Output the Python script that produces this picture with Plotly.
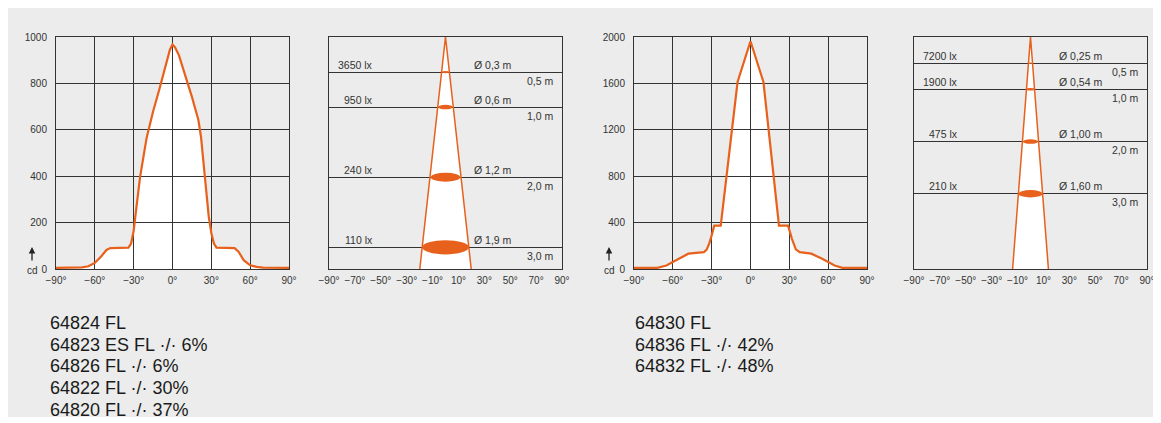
import numpy as np
import plotly.graph_objects as go

# luminous intensity distribution, left lamp (cd over angle)
ang_a = [-90, -80, -70, -65, -60, -55, -51, -48, -40, -34, -32, -30, -28, -25, -20, -15, -10, -5, -2, 0,
         2, 5, 10, 15, 20, 22, 25, 28, 30, 32, 34, 40, 48, 51, 55, 60, 65, 70, 80, 90]
cd_a = [5, 5, 7, 12, 26, 55, 82, 90, 90, 92, 110, 165, 260, 398, 565, 679, 778, 885, 945, 968,
        955, 921, 835, 742, 642, 570, 398, 226, 155, 110, 92, 90, 90, 75, 38, 16, 9, 6, 5, 5]

# luminous intensity distribution, right lamp
ang_b = [-90, -72, -65, -60, -55, -48, -40, -36, -34, -32, -30, -28, -23, -10, 0,
         10, 22, 29, 32, 35, 38, 47, 55, 60, 65, 71, 90]
cd_b = [10, 10, 30, 57, 90, 132, 138, 145, 165, 215, 290, 374, 374, 1612, 1963,
        1612, 374, 374, 260, 170, 145, 132, 90, 57, 30, 10, 10]

# illuminance cones
dist_a = [0.5, 1.0, 2.0, 3.0]
lux_a = [3650, 950, 240, 110]
diam_a = [0.3, 0.6, 1.2, 1.9]

dist_b = [0.5, 1.0, 2.0, 3.0]
lux_b = [7200, 1900, 475, 210]
diam_b = [0.25, 0.54, 1.00, 1.60]

models_a = ["64824 FL", "64823 ES FL ·/· 6%", "64826 FL ·/· 6%", "64822 FL ·/· 30%", "64820 FL ·/· 37%"]
models_b = ["64830 FL", "64836 FL ·/· 42%", "64832 FL ·/· 48%"]

cd_ticks_a = [0, 200, 400, 600, 800, 1000]
cd_ticks_b = [0, 400, 800, 1200, 1600, 2000]
deg_ticks = [-90, -60, -30, 0, 30, 60, 90]
cone_deg_ticks = [-90, -70, -50, -30, -10, 10, 30, 50, 70, 90]

# page has an 8px body margin, so the figure is placed at (8, 8) in the window
OFF = 8
W, H = 1161 - OFF, 423 - OFF
ORANGE = "#e8611c"
GRID = "#333333"
BG = "#ebeceb"
TICKFONT = dict(family="Liberation Sans, Arial, sans-serif", size=10, color="#333333")


def px_x(v):
    return (v - OFF) / W


def px_y(v):
    return 1 - (v - OFF) / H


def deg(v):
    return ("\u2212" if v < 0 else "") + str(abs(v)) + "°"


def comma(v, n):
    return f"{v:.{n}f}".replace(".", ",")


fig = go.Figure()
shapes = [dict(type="rect", xref="paper", yref="paper", x0=px_x(5), x1=1.01, y0=px_y(417), y1=px_y(7),
               fillcolor=BG, line_width=0, layer="below")]
annotations = []

ydom = [px_y(269), px_y(37)]
doms = [[px_x(56), px_x(289)], [px_x(329), px_x(562)], [px_x(634), px_x(867)], [px_x(914), px_x(1147)]]

# intensity curves -> axes 1 and 3
for i, (ang, cd, ticks) in zip([1, 3], [(ang_a, cd_a, cd_ticks_a), (ang_b, cd_b, cd_ticks_b)]):
    xa, ya = ("x" if i == 1 else f"x{i}"), ("y" if i == 1 else f"y{i}")
    path = "M -90,0 " + " ".join(f"L {a},{c}" for a, c in zip(ang, cd)) + " L 90,0 Z"
    shapes.append(dict(type="path", xref=xa, yref=ya, path=path, fillcolor="white", line_width=0, layer="below"))
    fig.add_trace(go.Scatter(x=ang, y=cd, mode="lines", line=dict(color=ORANGE, width=2.2),
                             xaxis=xa, yaxis=ya, showlegend=False, hoverinfo="skip"))
    sfx = "" if i == 1 else str(i)
    fig.layout["xaxis" + sfx] = dict(domain=doms[i - 1], range=[-90, 90], anchor=ya,
                                     tickvals=deg_ticks, ticktext=[deg(t) for t in deg_ticks],
                                     showgrid=True, gridcolor=GRID, gridwidth=1, zeroline=False,
                                     showline=True, linecolor=GRID, mirror=True, ticks="",
                                     tickfont=TICKFONT, ticklabelstandoff=2, tickangle=0,
                                     automargin=False)
    fig.layout["yaxis" + sfx] = dict(domain=ydom, range=[0, ticks[-1]], anchor=xa,
                                     tickvals=ticks, ticktext=[str(t) for t in ticks],
                                     showgrid=True, gridcolor=GRID, gridwidth=1, zeroline=False,
                                     showline=True, linecolor=GRID, mirror=True, ticks="",
                                     tickfont=TICKFONT, ticklabelstandoff=6, automargin=False)

# "cd" marker with arrow
for cx in [32, 609]:
    annotations.append(dict(xref="paper", yref="paper", x=px_x(cx), y=px_y(270), text="cd",
                            showarrow=False, font=TICKFONT, xanchor="center", yanchor="middle"))
    annotations.append(dict(xref="paper", yref="paper", x=px_x(cx), y=px_y(247), text="",
                            showarrow=True, ax=0, ay=15, arrowhead=2, arrowsize=1, arrowwidth=1.3,
                            arrowcolor="#222222"))

# illuminance cones -> axes 2 and 4
cones = [(2, dist_a, lux_a, diam_a, 3.31, 4.75, 0.107, 1), (4, dist_b, lux_b, diam_b, 4.44, 7.7, 0.088, 2)]
for i, dist, lux, diam, ymax, xhalf, k, nd in cones:
    xa, ya = f"x{i}", f"y{i}"
    hw = diam[-1] / 2 * ymax / dist[-1]
    shapes.append(dict(type="path", xref=xa, yref=ya, path=f"M {-hw},{ymax} L 0,0 L {hw},{ymax} Z",
                       fillcolor="white", line_width=0, layer="below"))
    fig.add_trace(go.Scatter(x=[-hw, 0, hw], y=[ymax, 0, ymax], mode="lines",
                             line=dict(color=ORANGE, width=1.5), xaxis=xa, yaxis=ya,
                             showlegend=False, hoverinfo="skip"))
    lbl = dict(TICKFONT, size=10.5)
    for d, lx, dm in zip(dist, lux, diam):
        shapes.append(dict(type="circle", xref=xa, yref=ya, x0=-dm / 2, x1=dm / 2,
                           y0=d - k * dm / 2, y1=d + k * dm / 2, fillcolor=ORANGE, line_width=0))
        annotations.append(dict(xref=f"{xa} domain", yref=ya, x=0.197, y=d, yshift=7.5, text=f"{lx} lx",
                                showarrow=False, xanchor="right", yanchor="middle", font=lbl))
        annotations.append(dict(xref=f"{xa} domain", yref=ya, x=0.612, y=d, yshift=7.5,
                                text=f"Ø {comma(dm, nd)} m",
                                showarrow=False, xanchor="left", yanchor="middle", font=lbl))
        annotations.append(dict(xref=f"{xa} domain", yref=ya, x=0.975, y=d, yshift=-8.5,
                                text=f"{comma(d, 1)} m",
                                showarrow=False, xanchor="right", yanchor="middle", font=lbl))
    fig.layout[f"xaxis{i}"] = dict(domain=doms[i - 1], range=[-xhalf, xhalf], anchor=ya,
                                   tickvals=list(np.linspace(-xhalf, xhalf, len(cone_deg_ticks))),
                                   ticktext=[deg(t) for t in cone_deg_ticks],
                                   showgrid=False, zeroline=False, showline=True, linecolor=GRID,
                                   mirror=True, ticks="", tickfont=TICKFONT, ticklabelstandoff=2,
                                   tickangle=0, automargin=False)
    fig.layout[f"yaxis{i}"] = dict(domain=ydom, range=[ymax, 0], anchor=xa, tickvals=dist,
                                   showticklabels=False, showgrid=True, gridcolor=GRID, gridwidth=1,
                                   zeroline=False, showline=True, linecolor=GRID, mirror=True, ticks="",
                                   automargin=False)

# lamp model lists
big = dict(family="Liberation Sans, Arial, sans-serif", size=18, color="#1a1a1a")
for x0, names in [(48, models_a), (633, models_b)]:
    for j, name in enumerate(names):
        annotations.append(dict(xref="paper", yref="paper", x=px_x(x0), y=px_y(323 + j * 21.7),
                                text=name, showarrow=False, xanchor="left", yanchor="middle", font=big))

fig.update_layout(width=W, height=H, margin=dict(l=0, r=0, t=0, b=0, autoexpand=False),
                  paper_bgcolor="white", plot_bgcolor=BG,
                  shapes=shapes, annotations=annotations, showlegend=False)

fig.write_html("out.html")
